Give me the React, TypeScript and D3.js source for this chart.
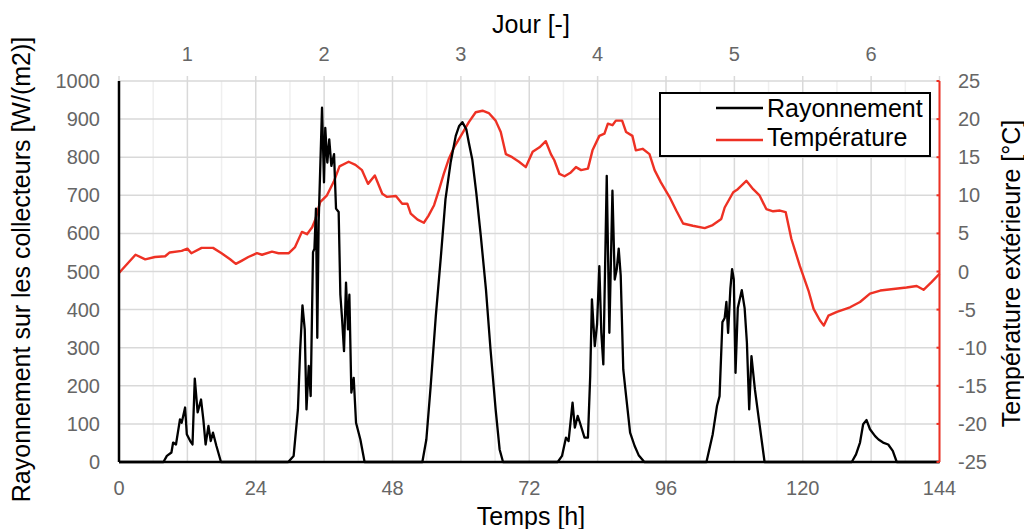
import React from 'react';
import * as d3 from 'd3';

// Rayonnement sur les collecteurs [W/m2] (heures / valeurs)
const radHours = [
  0, 7.8, 8.4, 9.2, 9.5, 10, 10.7, 11, 11.6, 11.9, 12.5, 12.9, 13.3, 13.8, 14.4, 14.8, 15.2, 15.7, 16.1, 16.5, 17.1, 17.9,
  29.7, 30.65, 31.4, 31.8, 32.2, 32.6, 32.9, 33.3, 33.64, 34.05, 34.3, 34.57, 34.8, 35.04, 35.63, 35.98, 36.2, 36.56, 36.9,
  37.27, 37.74, 38.09, 38.55, 38.85, 39.14, 39.49, 39.84, 40.19, 40.43, 40.78, 41.19, 41.6, 42.36, 43.1,
  53.24, 53.94, 54.7, 55.6, 56.5, 57.3, 58.2, 59.1, 59.7, 60.26, 60.96, 61.4, 62.0, 62.7, 63.5, 64.4, 65.2, 66.1, 66.8, 67.4,
  77.0, 77.75, 78.45, 78.9, 79.6, 80.0, 80.5, 80.9, 81.7, 82.3, 82.7, 83.0, 83.5, 83.9, 84.3, 84.65, 85.0, 85.6, 86.06,
  86.6, 87.0, 87.35, 87.7, 88.05, 88.5, 89.0, 89.7, 90.5, 91.2, 92.2,
  103.1, 104.2, 104.95, 105.4, 105.9, 106.3, 106.6, 106.9, 107.3, 107.6, 107.9, 108.2, 108.6, 109.3, 109.8, 110.2, 110.6,
  111.0, 111.6, 112.3, 113.3,
  128.6, 129.35, 130.05, 130.6, 131.2, 131.8, 132.7, 133.3, 134.1, 135.0, 135.8, 136.5, 144,
];
const radValues = [
  0, 0, 16, 25, 51, 46, 112, 103, 143, 73, 55, 46, 219, 130, 164, 112, 46, 95, 55, 77, 42, 0,
  0, 16, 138, 296, 411, 348, 138, 252, 173, 551, 560, 665, 326, 630, 930, 734, 877, 786, 847,
  777, 808, 665, 656, 439, 378, 291, 471, 348, 439, 182, 221, 103, 59, 0,
  0, 59, 199, 383, 541, 690, 786, 856, 882, 892, 873, 838, 794, 707, 593, 453, 296, 138, 33, 0,
  0, 16, 64, 55, 156, 90, 121, 103, 64, 64, 226, 427, 304, 361, 514, 339, 256, 751, 339,
  712, 479, 505, 560, 490, 243, 173, 77, 42, 18, 0,
  0, 73, 147, 173, 367, 378, 420, 339, 455, 506, 479, 234, 404, 451, 404, 313, 138,
  278, 191, 112, 0,
  0, 20, 51, 99, 110, 86, 68, 59, 51, 46, 29, 0, 0,
];

// Température extérieure [°C]
const tempHours = [
  0, 2.9, 4.6, 6.3, 8.1, 8.9, 11, 12, 12.7, 14.5, 16.5, 18, 19.5, 20.5, 21.5, 22.7, 24.2, 25.1, 26.85, 28, 29.8,
  30.9, 32.1, 33, 33.9, 34.5, 35.3, 36.5, 37.7, 38.7, 40.3, 41.5, 42.65, 43.7, 44.9, 46.2, 47.0, 48.6, 49.7, 50.6,
  51.2, 52.4, 53.5, 54.3, 55.3, 56.2, 57.0, 57.9, 58.8, 60.0, 61.4, 62.6, 63.8, 64.9, 66.1, 67.0, 67.9, 69.0, 70.2,
  71.4, 72.6, 73.8, 74.9, 75.8, 76.4, 77.3, 78.2, 79.3, 80.2, 81.1, 82.3, 83.1, 84.3, 85.2, 85.8, 86.6, 87.2, 88.3,
  89.0, 90.1, 90.7, 91.9, 93.1, 94.0, 95.1, 96.6, 97.8, 99.0, 100.7, 102.8, 104.2, 105.7, 106.3, 107.8, 108.6, 110.1,
  111.3, 112.4, 113.6, 114.8, 116.0, 117.0, 118.0, 119.5, 121.0, 121.9, 123.0, 123.7, 124.5, 126.0, 128.3, 130.05,
  131.8, 133.6, 135.9, 138.2, 140.0, 141.2, 142.6, 144,
];
const tempValues = [
  -0.2, 2.2, 1.6, 1.9, 2.0, 2.5, 2.7, 3.0, 2.4, 3.1, 3.1, 2.4, 1.6, 1.0, 1.4, 1.9, 2.4, 2.2, 2.6, 2.4, 2.4,
  3.2, 5.2, 4.9, 5.8, 6.9, 9.1, 10.0, 11.8, 13.8, 14.4, 14.0, 13.3, 11.5, 12.6, 10.2, 9.8, 9.9, 8.9, 8.9,
  7.6, 6.8, 6.4, 7.3, 8.7, 10.8, 12.8, 14.8, 16.3, 17.8, 19.6, 20.9, 21.1, 20.8, 19.8, 18.3, 15.4, 15.0, 14.4,
  13.7, 15.7, 16.3, 17.1, 15.4, 14.6, 12.8, 12.5, 13.0, 13.7, 13.3, 13.5, 15.9, 17.8, 18.1, 19.4, 19.2, 19.8, 19.8,
  18.3, 17.8, 15.9, 16.1, 15.4, 13.3, 11.7, 9.8, 8.0, 6.3, 6.0, 5.7, 6.1, 6.9, 8.4, 10.4, 10.8, 11.9,
  10.8, 10.0, 8.2, 7.9, 8.0, 7.8, 4.3, 0.7, -2.5, -4.9, -6.4, -7.1, -5.8, -5.3, -4.7, -4.0,
  -2.9, -2.5, -2.3, -2.1, -1.9, -2.4, -1.4, -0.3,
];

const hourTicks = [0, 24, 48, 72, 96, 120, 144];
const dayLabels = ['1', '2', '3', '4', '5', '6'];
const radTicks = [0, 100, 200, 300, 400, 500, 600, 700, 800, 900, 1000];
const tempTicks = [-25, -20, -15, -10, -5, 0, 5, 10, 15, 20, 25];

const RED = '#ee3124';
const GREY = '#666666';
const FONT = '"Liberation Sans", Arial, sans-serif';

export default function App() {
  const width = 1024;
  const height = 529;
  const left = 119, right = 939.5, top = 81, bottom = 462;

  const x = d3.scaleLinear().domain([0, 144]).range([left, right]);
  const yL = d3.scaleLinear().domain([0, 1000]).range([bottom, top]);
  const yR = d3.scaleLinear().domain([-25, 25]).range([bottom, top]);

  const radLine = d3.line<number>()
    .x((_, i) => x(radHours[i]))
    .y((d) => yL(d));
  const tempLine = d3.line<number>()
    .x((_, i) => x(tempHours[i]))
    .y((d) => yR(d));

  const minorX = d3.range(6, 144, 12);
  const majorX = d3.range(0, 145, 12);

  return (
    <svg width={width} height={height} style={{ position: 'absolute', left: 0, top: 0, background: '#fff' }}
      fontFamily={FONT}>
      {/* grille */}
      {minorX.map((h) => (
        <line key={'mx' + h} x1={x(h)} x2={x(h)} y1={top} y2={bottom} stroke="#efefef" strokeWidth={1.5} />
      ))}
      {majorX.map((h) => (
        <line key={'Mx' + h} x1={x(h)} x2={x(h)} y1={top - 5} y2={bottom} stroke="#d9d9d9" strokeWidth={1.5} />
      ))}
      {radTicks.map((v) => (
        <line key={'gy' + v} x1={left} x2={right} y1={yL(v)} y2={yL(v)} stroke="#d9d9d9" strokeWidth={1.5} />
      ))}

      {/* séries */}
      <path d={tempLine(tempValues) || ''} fill="none" stroke={RED} strokeWidth={2.4} strokeLinejoin="round" />
      <path d={radLine(radValues) || ''} fill="none" stroke="#000" strokeWidth={2.3} strokeLinejoin="round" />

      {/* axes */}
      <line x1={left} x2={left} y1={top} y2={bottom} stroke="#000" strokeWidth={2.5} />
      <line x1={left} x2={right} y1={bottom} y2={bottom} stroke="#000" strokeWidth={2.5} />
      <line x1={right} x2={right} y1={top} y2={bottom} stroke={RED} strokeWidth={2} />
      {tempTicks.map((t) => (
        <line key={'rt' + t} x1={right - 3} x2={right} y1={yR(t)} y2={yR(t)} stroke={RED} strokeWidth={2} />
      ))}

      {/* graduations */}
      {radTicks.map((v) => (
        <text key={'lt' + v} x={100} y={yL(v)} dy="0.35em" textAnchor="end" fontSize={20} fill={GREY}>{v}</text>
      ))}
      {tempTicks.map((t) => (
        <text key={'rl' + t} x={958} y={yR(t)} dy="0.35em" textAnchor="start" fontSize={20} fill={GREY}>{t}</text>
      ))}
      {hourTicks.map((h) => (
        <text key={'bt' + h} x={x(h)} y={495} textAnchor="middle" fontSize={20} fill={GREY}>{h}</text>
      ))}
      {dayLabels.map((d, i) => (
        <text key={'tt' + d} x={x(12 + 24 * i)} y={61} textAnchor="middle" fontSize={20} fill={GREY}>{d}</text>
      ))}

      {/* titres */}
      <text x={531} y={33} textAnchor="middle" fontSize={25} fill="#000">Jour [-]</text>
      <text x={531} y={525} textAnchor="middle" fontSize={25} fill="#000">Temps [h]</text>
      <text transform={`translate(30,${(top + bottom) / 2 - 2}) rotate(-90)`} textAnchor="middle" fontSize={25} fill="#000">
        Rayonnement sur les collecteurs [W/(m2)]
      </text>
      <text transform={`translate(1020,${(top + bottom) / 2 + 2}) rotate(-90)`} textAnchor="middle" fontSize={25} fill="#000">
        Température extérieure [°C]
      </text>

      {/* légende */}
      <rect x={660} y={93} width={270} height={63} fill="#fff" stroke="#000" strokeWidth={2} />
      <line x1={716} x2={763} y1={108} y2={108} stroke="#000" strokeWidth={2.3} />
      <line x1={716} x2={763} y1={140} y2={140} stroke={RED} strokeWidth={2.4} />
      <text x={767} y={117} fontSize={25} fill="#000">Rayonnement</text>
      <text x={767} y={146} fontSize={25} fill="#000">Température</text>
    </svg>
  );
}
